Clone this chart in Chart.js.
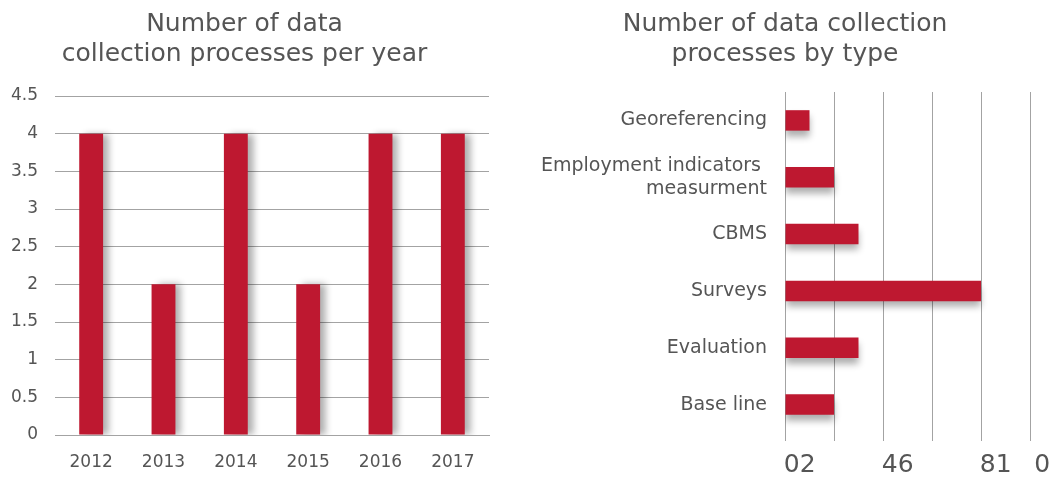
<!DOCTYPE html>
<html>
<head>
<meta charset="utf-8">
<script src="https://cdn.jsdelivr.net/npm/chart.js@4.4.0/dist/chart.umd.min.js"></script>
<style>
  html, body { margin: 0; padding: 0; background: #fff; }
  #wrap { position: relative; width: 1054px; height: 477px; overflow: hidden; }
  .box { position: absolute; top: 0; height: 477px; }
</style>
</head>
<body>
<div id="wrap">
  <div class="box" style="left:0;width:524px;"><canvas id="c1"></canvas></div>
  <div class="box" style="left:540px;width:514px;"><canvas id="c2"></canvas></div>
</div>
<script>
const years = ['2012', '2013', '2014', '2015', '2016', '2017'];
const processesPerYear = [4, 2, 4, 2, 4, 4];
const yearTicks = [0, 0.5, 1, 1.5, 2, 2.5, 3, 3.5, 4, 4.5];

const types = ['Georeferencing', ['Employment indicators ', 'measurment'], 'CBMS', 'Surveys', 'Evaluation', 'Base line'];
const processesByType = [1, 2, 3, 8, 3, 2];
const typeGridTicks = [0, 2, 4, 6, 8, 10];
const typeTickLabels = ['02', '46', '81', '0'];
const typeTickValues = [0.6, 4.6, 8.6, 10.5];

const FONT = "'DejaVu Sans', sans-serif";
const TEXT = '#555555';
const GRID = '#a3a3a3';
const RED = '#be1830';

const shadow = (dx, dy) => ({
  id: 'barShadow',
  beforeDatasetsDraw(chart) {
    const ctx = chart.ctx;
    ctx.save();
    ctx.shadowColor = 'rgba(0,0,0,0.32)';
    ctx.shadowBlur = 7;
    ctx.shadowOffsetX = dx;
    ctx.shadowOffsetY = dy;
  },
  afterDatasetsDraw(chart) { chart.ctx.restore(); }
});

new Chart(document.getElementById('c1'), {
  type: 'bar',
  data: { labels: years, datasets: [{ data: processesPerYear, backgroundColor: RED, barPercentage: 0.33, categoryPercentage: 1 }] },
  options: {
    responsive: true, maintainAspectRatio: false, animation: false,
    layout: { padding: { left: 0, right: 35, top: 0, bottom: 0 } },
    plugins: {
      legend: { display: false }, tooltip: { enabled: false },
      title: { display: true, text: ['Number of data', 'collection processes per year'], color: TEXT,
        font: { family: FONT, size: 25, weight: 'normal', lineHeight: 1.2 }, padding: { top: 9, bottom: 27 } }
    },
    scales: {
      x: {
        grid: { display: false, drawTicks: false },
        border: { display: true, color: GRID, width: 1 },
        ticks: { color: TEXT, font: { family: FONT, size: 17 }, padding: 17 },
        afterFit(s) { s.height = 42; }
      },
      y: {
        min: 0, max: 4.5,
        afterBuildTicks(s) { s.ticks = yearTicks.map(v => ({ value: v })); },
        grid: { color: GRID, drawTicks: false },
        border: { display: false },
        ticks: { color: TEXT, font: { family: FONT, size: 17 }, padding: 17, callback: v => String(v) },
        afterFit(s) { s.width = 55; }
      }
    }
  },
  plugins: [shadow(6, 0)]
});

new Chart(document.getElementById('c2'), {
  type: 'bar',
  data: { labels: types, datasets: [{ data: processesByType, backgroundColor: RED, barPercentage: 0.36, categoryPercentage: 1 }] },
  options: {
    indexAxis: 'y',
    responsive: true, maintainAspectRatio: false, animation: false,
    layout: { padding: { left: 0, right: 24, top: 0, bottom: 0 } },
    plugins: {
      legend: { display: false }, tooltip: { enabled: false },
      title: { display: true, text: ['Number of data collection', 'processes by type'], color: TEXT,
        font: { family: FONT, size: 25, weight: 'normal', lineHeight: 1.2 }, padding: { top: 9, bottom: 23 } }
    },
    scales: {
      x: {
        position: 'bottom', min: 0, max: 10,
        afterBuildTicks(s) { s.ticks = typeGridTicks.map(v => ({ value: v })); },
        grid: { color: GRID, drawTicks: true, tickLength: 8 },
        border: { display: false },
        ticks: { display: false },
        afterFit(s) { s.height = 0; s.paddingLeft = 0; s.paddingRight = 0; }
      },
      x2: {
        position: 'bottom', min: 0, max: 10,
        afterBuildTicks(s) { s.ticks = typeTickValues.map(v => ({ value: v })); },
        grid: { display: false, drawTicks: false },
        border: { display: false },
        ticks: { autoSkip: false, maxRotation: 0, color: TEXT, font: { family: FONT, size: 25 }, padding: 17,
          callback: (v, i) => typeTickLabels[i] },
        afterFit(s) { s.height = 44; s.paddingLeft = 0; s.paddingRight = 0; }
      },
      y: {
        grid: { display: false, drawTicks: false },
        border: { display: true, color: GRID, width: 1 },
        ticks: { color: TEXT, font: { family: FONT, size: 19, lineHeight: 1.2 }, padding: 18 },
        afterFit(s) { s.width = 245; s.paddingTop = 0; s.paddingBottom = 0; }
      }
    }
  },
  plugins: [shadow(0, 6)]
});
</script>
</body>
</html>
